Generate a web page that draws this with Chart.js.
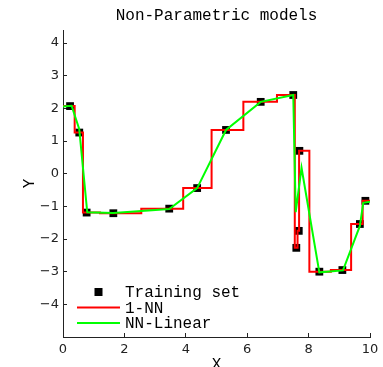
<!DOCTYPE html>
<html>
<head>
<meta charset="utf-8">
<script src="https://cdn.jsdelivr.net/npm/chart.js@4/dist/chart.umd.min.js"></script>
<style>
  html, body { margin: 0; padding: 0; background: #fff; }
  #wrap { width: 383px; height: 367px; }
</style>
</head>
<body>
<div id="wrap"><canvas id="myChart"></canvas></div>
<script>
// Training set
const trainX = [0.23, 0.53, 0.77, 1.64, 3.46, 4.37, 5.31, 6.44, 7.50, 7.60, 7.68, 7.70, 8.35, 9.10, 9.67, 9.85];
const trainY = [2.07, 1.26, -1.19, -1.21, -1.07, -0.44, 1.34, 2.20, 2.41, -2.27, -1.75, 0.70, -3.00, -2.95, -1.54, -0.83];

// NN-Linear curve vertices
const linX = [0, 0.28, 0.53, 0.79, 1.64, 3.46, 4.37, 5.31, 6.44, 7.50, 7.58, 7.77, 8.35, 9.12, 9.67, 9.78, 10];
const linY = [2.06, 2.08, 1.36, -1.18, -1.20, -1.08, -0.44, 1.34, 2.20, 2.41, -1.18, 0.18, -3.02, -2.96, -1.60, -0.89, -0.86];

// 1-NN: the training values, drawn as middle steps over 0..10
const nnX = [0, ...trainX, 10];
const nnY = [trainY[0], ...trainY, trainY[trainY.length - 1]];

const xTicks = [0, 2, 4, 6, 8, 10];
const yTicks = [-4, -3, -2, -1, 0, 1, 2, 3, 4];

const toPoints = (xs, ys) => xs.map((x, i) => ({ x: x, y: ys[i] }));
const minus = v => String(v).replace('-', '\u2212');

const axisColor = '#222';

// legend drawn inside the plot, lower left
const insideLegend = {
  id: 'insideLegend',
  afterDatasetsDraw(chart, args, opts) {
    const c = chart.ctx;
    c.save();
    c.font = '16px "Liberation Mono"';
    c.textBaseline = 'middle';
    chart.data.datasets.forEach((ds, i) => {
      const y = opts.top + i * opts.rowHeight;
      if (ds.showLine) {
        c.strokeStyle = ds.borderColor;
        c.lineWidth = ds.borderWidth;
        c.beginPath();
        c.moveTo(opts.lineStart, y);
        c.lineTo(opts.lineEnd, y);
        c.stroke();
      } else {
        const s = opts.markerSize;
        const mid = (opts.lineStart + opts.lineEnd) / 2;
        c.fillStyle = ds.backgroundColor;
        c.fillRect(mid - s / 2, y - s / 2, s, s);
      }
      c.fillStyle = '#000';
      c.fillText(ds.label, opts.textStart, y + 1);
    });
    c.restore();
  }
};

// center the title over the plot area rather than the canvas
const centerTitle = {
  id: 'centerTitle',
  afterLayout(chart) {
    if (chart.titleBlock) {
      chart.titleBlock.left = chart.chartArea.left;
      chart.titleBlock.right = chart.chartArea.right;
    }
  }
};

const ctx = document.getElementById('myChart');

const config = {
  type: 'scatter',
  data: {
    datasets: [
      {
        label: 'Training set',
        data: toPoints(trainX, trainY),
        pointStyle: 'rect',
        pointRadius: 5.5,
        pointBackgroundColor: '#000',
        pointBorderWidth: 0,
        backgroundColor: '#000',
        showLine: false,
        order: 3
      },
      {
        label: '1-NN',
        data: toPoints(nnX, nnY),
        showLine: true,
        stepped: 'middle',
        borderColor: '#ff0000',
        borderWidth: 2,
        pointRadius: 0,
        order: 2
      },
      {
        label: 'NN-Linear',
        data: toPoints(linX, linY),
        showLine: true,
        borderColor: '#00ff00',
        borderWidth: 2,
        pointRadius: 0,
        order: 1
      }
    ]
  },
  options: {
    responsive: true,
    maintainAspectRatio: false,
    animation: false,
    layout: { padding: { left: 0, right: 13, top: 0, bottom: 0 } },
    plugins: {
      legend: { display: false },
      tooltip: { enabled: false },
      title: {
        display: true,
        text: 'Non-Parametric models',
        color: '#000',
        font: { family: 'Liberation Mono', size: 16, weight: 'normal', lineHeight: 1.2 },
        padding: { top: 6, bottom: 4.8 }
      },
      insideLegend: {
        top: 292,
        rowHeight: 15.5,
        lineStart: 77,
        lineEnd: 120,
        textStart: 125,
        markerSize: 8
      }
    },
    scales: {
      x: {
        type: 'linear',
        min: 0,
        max: 10,
        afterBuildTicks: s => { s.ticks = xTicks.map(v => ({ value: v })); },
        afterFit: s => { s.height = 30; s.paddingLeft = 0; s.paddingRight = 0; },
        ticks: {
          color: axisColor,
          font: { family: 'DejaVu Sans', size: 13 },
          padding: 9,
          maxRotation: 0,
          callback: minus
        },
        grid: { drawOnChartArea: false, tickLength: -4, color: axisColor },
        border: { display: true, color: axisColor, width: 1 },
        title: {
          display: true,
          text: 'X',
          color: '#000',
          font: { family: 'Liberation Mono', size: 16, lineHeight: 1 },
          padding: { top: 0, bottom: -6 }
        }
      },
      y: {
        type: 'linear',
        min: -5,
        max: 4.4,
        afterBuildTicks: s => { s.ticks = yTicks.map(v => ({ value: v })); },
        afterFit: s => { s.width = 63; s.paddingTop = 0; s.paddingBottom = 0; },
        ticks: {
          color: axisColor,
          font: { family: 'DejaVu Sans', size: 13 },
          padding: 8,
          callback: minus
        },
        grid: { drawOnChartArea: false, tickLength: -4, color: axisColor },
        border: { display: true, color: axisColor, width: 1 },
        title: {
          display: true,
          text: 'Y',
          color: '#000',
          font: { family: 'Liberation Mono', size: 16, lineHeight: 1.2 },
          padding: { top: 20, bottom: 0 }
        }
      }
    }
  },
  plugins: [insideLegend, centerTitle]
};

const myChart = new Chart(ctx, config);
</script>
</body>
</html>
